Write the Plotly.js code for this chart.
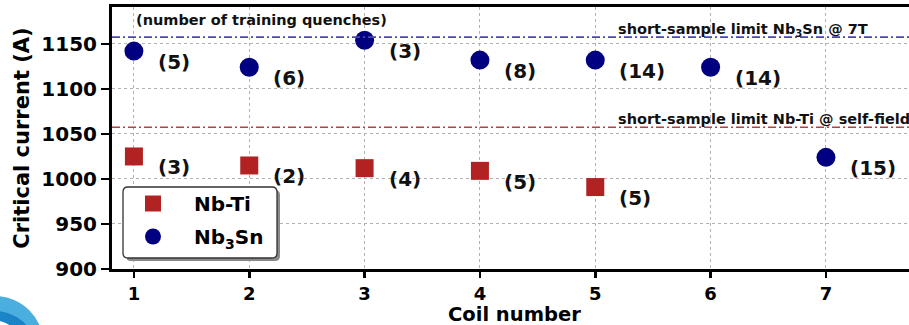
<!DOCTYPE html>
<html><head><meta charset="utf-8">
<script src="https://cdn.plot.ly/plotly-3.0.1.min.js"></script>
<style>html,body{margin:0;padding:0;background:#fff}#chart{width:909px;height:325px}</style>
</head><body><div id="chart"></div>
<script>
// ---- data ----
const nbtiCoils = [1, 2, 3, 4, 5];
const nbtiCurrent = [1025, 1015, 1012, 1009, 991];
const nbtiQuenches = ['(3)', '(2)', '(4)', '(5)', '(5)'];
const nb3snCoils = [1, 2, 3, 4, 5, 6, 7];
const nb3snCurrent = [1142, 1124, 1154, 1132, 1132, 1124, 1024];
const nb3snQuenches = ['(5)', '(6)', '(3)', '(8)', '(14)', '(14)', '(15)'];
const limitNb3Sn = 1157.5;
const limitNbTi = 1057.5;
const xTicks = [1, 2, 3, 4, 5, 6, 7];
const yTicks = [900, 950, 1000, 1050, 1100, 1150];
const seriesNames = ['Nb-Ti', 'Nb<sub>3</sub>Sn'];
const xTitle = 'Coil number';
const yTitle = 'Critical current (A)';

// ---- plot ----
const F = 'DejaVu Sans';
const ML = 112, MT = 7, MB = 56, W = 909, H = 325;
const PW = W - ML, PH = H - MT - MB;
const px = v => (v - ML) / PW;
const py = v => (H - MB - v) / PH;

const traces = [
  {x: nbtiCoils, y: nbtiCurrent, name: seriesNames[0], type: 'scatter', mode: 'markers',
   legendgroup: 'a',
   marker: {symbol: 'square', size: 18, color: '#b22222'}},
  {x: nb3snCoils, y: nb3snCurrent, name: seriesNames[1], type: 'scatter', mode: 'markers',
   legendgroup: 'b',
   marker: {symbol: 'circle', size: 19, color: '#000080'}}
];

const labelFont = {family: F, size: 20, weight: 'bold', color: '#111'};
const annotations = [];
nbtiCoils.forEach((c, i) => annotations.push({x: c, y: nbtiCurrent[i], text: nbtiQuenches[i],
  xref: 'x', yref: 'y', xanchor: 'left', yanchor: 'middle', xshift: 22, yshift: -11,
  showarrow: false, font: labelFont}));
nb3snCoils.forEach((c, i) => annotations.push({x: c, y: nb3snCurrent[i], text: nb3snQuenches[i],
  xref: 'x', yref: 'y', xanchor: 'left', yanchor: 'middle', xshift: 22, yshift: -11,
  showarrow: false, font: labelFont}));
const smallFont = {family: F, size: 14.5, weight: 'bold', color: '#111'};
annotations.push({x: px(134), y: py(20), xref: 'paper', yref: 'paper', xanchor: 'left', yanchor: 'middle',
  text: '(number of training quenches)', showarrow: false, font: smallFont});
annotations.push({x: px(616), y: limitNb3Sn, xref: 'paper', yref: 'y', xanchor: 'left', yanchor: 'bottom', yshift: -4,
  text: 'short-sample limit Nb<sub>3</sub>Sn @ 7T', showarrow: false, font: smallFont});
annotations.push({x: px(616), y: limitNbTi, xref: 'paper', yref: 'y', xanchor: 'left', yanchor: 'bottom', yshift: -2,
  text: 'short-sample limit Nb-Ti @ self-field', showarrow: false, font: smallFont});
// x-axis title placed as paper annotation below the tick labels
annotations.push({x: px(514), y: py(314.5), xref: 'paper', yref: 'paper', xanchor: 'center', yanchor: 'middle',
  text: xTitle, showarrow: false, borderpad: 0,
  font: {family: F, size: 19.5, weight: 'bold', color: 'black'}});

function roundRect(x0, y0, x1, y1, r) {
  const X = v => px(v), Y = v => py(v);
  return `M ${X(x0 + r)},${Y(y0)} L ${X(x1 - r)},${Y(y0)} Q ${X(x1)},${Y(y0)} ${X(x1)},${Y(y0 + r)} ` +
         `L ${X(x1)},${Y(y1 - r)} Q ${X(x1)},${Y(y1)} ${X(x1 - r)},${Y(y1)} ` +
         `L ${X(x0 + r)},${Y(y1)} Q ${X(x0)},${Y(y1)} ${X(x0)},${Y(y1 - r)} ` +
         `L ${X(x0)},${Y(y0 + r)} Q ${X(x0)},${Y(y0)} ${X(x0 + r)},${Y(y0)} Z`;
}

const shapes = [
  {type: 'line', xref: 'paper', yref: 'y', x0: 0, x1: 1, y0: limitNb3Sn, y1: limitNb3Sn,
   line: {color: '#4848b0', width: 1.6, dash: '8px,3px,2px,3px'}},
  {type: 'line', xref: 'paper', yref: 'y', x0: 0, x1: 1, y0: limitNbTi, y1: limitNbTi,
   line: {color: '#b04444', width: 1.6, dash: '8px,3px,2px,3px'}},
  // legend frame with shadow
  {type: 'path', xref: 'paper', yref: 'paper', layer: 'above', path: roundRect(126, 190, 280, 261, 5),
   fillcolor: '#8a8a8a', line: {width: 0}},
  {type: 'path', xref: 'paper', yref: 'paper', layer: 'above', path: roundRect(123, 187, 277, 258, 5),
   fillcolor: 'white', line: {color: '#333', width: 1.3}},
  // logo fragment bottom-left
  {type: 'circle', xref: 'paper', yref: 'paper', layer: 'above',
   x0: px(-55), x1: px(44), y0: py(296), y1: py(395), fillcolor: '#4aaedf', line: {width: 0}},
  {type: 'circle', xref: 'paper', yref: 'paper', layer: 'above',
   x0: px(-45), x1: px(34), y0: py(311), y1: py(380), fillcolor: '#1b84c6', line: {width: 0}},
  {type: 'circle', xref: 'paper', yref: 'paper', layer: 'above',
   x0: px(-40), x1: px(22), y0: py(320), y1: py(372), fillcolor: '#ffffff', line: {width: 0}}
];

const tickFont = {family: F, size: 20, weight: 'bold', color: 'black'};
const xTickFont = {family: F, size: 18, weight: 'bold', color: 'black'};
const titleFont = {family: F, size: 21, weight: 'bold', color: 'black'};

const layout = {
  width: W, height: H,
  margin: {l: ML, r: 0, t: MT, b: MB, pad: 0},
  paper_bgcolor: 'white', plot_bgcolor: 'white',
  showlegend: true,
  legend: {x: px(112), y: py(184), xanchor: 'left', yanchor: 'top', bgcolor: 'rgba(0,0,0,0)',
    borderwidth: 0, itemwidth: 72, traceorder: 'grouped', tracegroupgap: 4,
    font: {family: F, size: 20, weight: 'bold', color: 'black'}},
  xaxis: {range: [0.81, 7.72], tickvals: xTicks, ticks: 'outside', ticklen: 6, tickwidth: 2.5,
    tickcolor: 'black', showline: true, linewidth: 3, linecolor: 'black', mirror: true,
    showgrid: true, gridcolor: '#b0b0b0', griddash: 'dot', gridwidth: 1, zeroline: false,
    tickfont: xTickFont},
  yaxis: {range: [900, 1191], tickvals: yTicks, ticks: 'outside', ticklen: 8, tickwidth: 2.5,
    tickcolor: 'black', showline: true, linewidth: 3, linecolor: 'black',
    showgrid: true, gridcolor: '#b0b0b0', griddash: 'dot', gridwidth: 1, zeroline: false,
    tickfont: tickFont, title: {text: yTitle, font: titleFont, standoff: 6}},
  annotations: annotations,
  shapes: shapes
};

Plotly.newPlot('chart', traces, layout, {displayModeBar: false, staticPlot: true});
</script>
</body></html>
